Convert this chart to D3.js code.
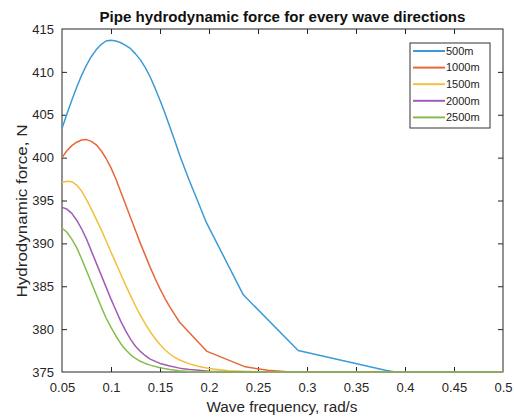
<!DOCTYPE html>
<html>
<head>
<meta charset="utf-8">
<script src="https://cdn.jsdelivr.net/npm/d3@7"></script>
<style>
  body { margin: 0; background: #fff; }
  text { font-family: "Liberation Sans", Arial, sans-serif; }
</style>
</head>
<body>
<div id="chart"></div>
<script>

// data: [wave frequency, force]

var seriesNames = ["500m", "1000m", "1500m", "2000m", "2500m"];
var seriesColors = ["#3d9ad8", "#e4683a", "#f3bf3f", "#a35cb4", "#84bd4c"];

var depth500 = [[0.05,403.4],[0.055,405.1],[0.06,406.7],[0.065,408.2],[0.07,409.6],[0.075,410.8],
  [0.08,411.8],[0.085,412.6],[0.09,413.2],[0.095,413.6],[0.1,413.7],[0.105,413.6],[0.11,413.4],
  [0.115,413.1],[0.12,412.7],[0.125,412.1],[0.13,411.4],[0.135,410.5],[0.14,409.4],[0.145,408.1],
  [0.15,406.7],[0.155,405.2],[0.16,403.6],[0.165,402.0],[0.17,400.3],[0.175,398.8],[0.18,397.3],
  [0.185,395.9],[0.19,394.5],[0.197,392.5],[0.235,384],[0.291,377.5],[0.38,375.2],[0.39,375],
  [0.5,375]];

var depth1000 = [[0.05,400.0],[0.055,400.8],[0.06,401.4],[0.065,401.8],[0.07,402.05],[0.075,402.1],
  [0.08,401.9],[0.085,401.5],[0.09,400.8],[0.095,399.9],[0.1,398.8],[0.105,397.5],[0.11,396.0],
  [0.115,394.5],[0.12,393.0],[0.125,391.5],[0.13,390.0],[0.135,388.6],[0.14,387.2],[0.145,385.9],
  [0.15,384.7],[0.155,383.6],[0.16,382.6],[0.165,381.7],[0.17,380.8],[0.198,377.4],[0.237,375.6],
  [0.26,375.2],[0.28,375.03],[0.3,375],[0.5,375]];

var depth1500 = [[0.05,397.1],[0.055,397.25],[0.06,397.2],[0.065,396.8],[0.07,396.1],[0.075,395.1],
  [0.08,394.0],[0.085,392.8],[0.09,391.6],[0.095,390.3],[0.1,389.0],[0.105,387.7],[0.11,386.4],
  [0.115,385.1],[0.12,383.9],[0.125,382.7],[0.13,381.6],[0.135,380.6],[0.14,379.7],[0.145,378.9],
  [0.15,378.2],[0.155,377.6],[0.16,377.1],[0.165,376.7],[0.17,376.4],[0.18,375.95],[0.19,375.65],
  [0.2,375.4],[0.22,375.15],[0.25,375.03],[0.28,375],[0.5,375]];

var depth2000 = [[0.05,394.2],[0.055,394.0],[0.06,393.5],[0.065,392.7],[0.07,391.7],[0.075,390.5],
  [0.08,389.1],[0.085,387.7],[0.09,386.3],[0.095,384.9],[0.1,383.5],[0.105,382.2],[0.11,380.9],
  [0.115,379.8],[0.12,378.8],[0.125,378.0],[0.13,377.4],[0.135,376.9],[0.14,376.5],[0.15,376.0],
  [0.16,375.7],[0.17,375.45],[0.18,375.3],[0.19,375.2],[0.2,375.1],[0.22,375.03],[0.25,375],
  [0.5,375]];

var depth2500 = [[0.05,391.8],[0.055,391.3],[0.06,390.5],[0.065,389.5],[0.07,388.2],[0.075,386.8],
  [0.08,385.4],[0.085,384.0],[0.09,382.6],[0.095,381.3],[0.1,380.2],[0.105,379.2],[0.11,378.3],
  [0.115,377.6],[0.12,377.0],[0.125,376.6],[0.13,376.25],[0.135,376.0],[0.14,375.8],[0.15,375.5],
  [0.16,375.3],[0.17,375.15],[0.18,375.07],[0.2,375.02],[0.22,375],[0.5,375]];

var xTicks = [0.05, 0.1, 0.15, 0.2, 0.25, 0.3, 0.35, 0.4, 0.45, 0.5];
var yTicks = [375, 380, 385, 390, 395, 400, 405, 410, 415];

var allSeries = [depth500, depth1000, depth1500, depth2000, depth2500];

// layout

var width = 514,
    height = 419,
    margin = {top: 29, right: 11, bottom: 47, left: 62};

var svg = d3.select("#chart").append("svg")
  .attr("width", width)
  .attr("height", height);

var x = d3.scaleLinear()
  .domain([0.05, 0.5])
  .range([margin.left, width - margin.right]);

var y = d3.scaleLinear()
  .domain([375, 415])
  .range([height - margin.bottom, margin.top]);

// axes box with inward ticks (matlab style)

var g = svg.append("g");

g.append("rect")
  .attr("x", x(0.05))
  .attr("y", y(415))
  .attr("width", x(0.5) - x(0.05))
  .attr("height", y(375) - y(415))
  .style("fill", "none")
  .style("stroke", "#262626")
  .style("stroke-width", 1);

var bottomAxis = g.append("g")
  .attr("transform", "translate(0," + y(375) + ")")
  .call(d3.axisBottom(x).tickValues(xTicks).tickSize(-5).tickPadding(11)
    .tickFormat(d3.format("")));

var topAxis = g.append("g")
  .attr("transform", "translate(0," + y(415) + ")")
  .call(d3.axisTop(x).tickValues(xTicks).tickSize(-5).tickFormat(""));

var leftAxis = g.append("g")
  .attr("transform", "translate(" + x(0.05) + ",0)")
  .call(d3.axisLeft(y).tickValues(yTicks).tickSize(-5).tickPadding(8));

var rightAxis = g.append("g")
  .attr("transform", "translate(" + x(0.5) + ",0)")
  .call(d3.axisRight(y).tickValues(yTicks).tickSize(-5).tickFormat(""));

g.selectAll(".domain").remove();
g.selectAll(".tick line").style("stroke", "#262626");
g.selectAll(".tick text")
  .style("font-size", "13px")
  .style("fill", "#262626");

// remove ticks at the box corners, they sit on the frame anyway
g.selectAll(".tick").filter(function(d) { return d == 0.05 || d == 0.5 || d == 375 || d == 415; })
  .select("line").remove();

// series lines

var line = d3.line()
  .x(function(d) { return x(d[0]); })
  .y(function(d) { return y(d[1]); });

svg.selectAll(".series")
  .data(allSeries)
  .enter()
  .append("path")
  .attr("class", "series")
  .attr("d", line)
  .style("fill", "none")
  .style("stroke", function(d, i) { return seriesColors[i]; })
  .style("stroke-width", 1.5)
  .style("stroke-linejoin", "round");

// titles

svg.append("text")
  .attr("x", (x(0.05) + x(0.5)) / 2)
  .attr("y", 22)
  .attr("text-anchor", "middle")
  .style("font-size", "14px")
  .style("font-weight", "bold")
  .style("fill", "#111")
  .attr("textLength", 366)
  .attr("lengthAdjust", "spacingAndGlyphs")
  .text("Pipe hydrodynamic force for every wave directions");

svg.append("text")
  .attr("x", 282)
  .attr("y", 412)
  .attr("text-anchor", "middle")
  .style("font-size", "14px")
  .style("fill", "#262626")
  .attr("textLength", 151)
  .attr("lengthAdjust", "spacingAndGlyphs")
  .text("Wave frequency, rad/s");

svg.append("text")
  .attr("transform", "translate(27,211) rotate(-90)")
  .attr("text-anchor", "middle")
  .style("font-size", "14px")
  .style("fill", "#262626")
  .attr("textLength", 173)
  .attr("lengthAdjust", "spacingAndGlyphs")
  .text("Hydrodynamic force, N");

// legend

var legend = svg.append("g");

legend.append("rect")
  .attr("x", 410)
  .attr("y", 43)
  .attr("width", 80)
  .attr("height", 85)
  .style("fill", "#fff")
  .style("stroke", "#333")
  .style("stroke-width", 1);

var item = legend.selectAll(".item")
  .data(seriesNames)
  .enter()
  .append("g")
  .attr("class", "item")
  .attr("transform", function(d, i) { return "translate(0," + (51 + i * 16.6) + ")"; });

item.append("line")
  .attr("x1", 413)
  .attr("x2", 445)
  .style("stroke", function(d, i) { return seriesColors[i]; })
  .style("stroke-width", 2);

item.append("text")
  .attr("x", 446)
  .attr("dy", "0.35em")
  .style("font-size", "11px")
  .style("fill", "#222")
  .text(function(d) { return d; });

</script>
</body>
</html>
